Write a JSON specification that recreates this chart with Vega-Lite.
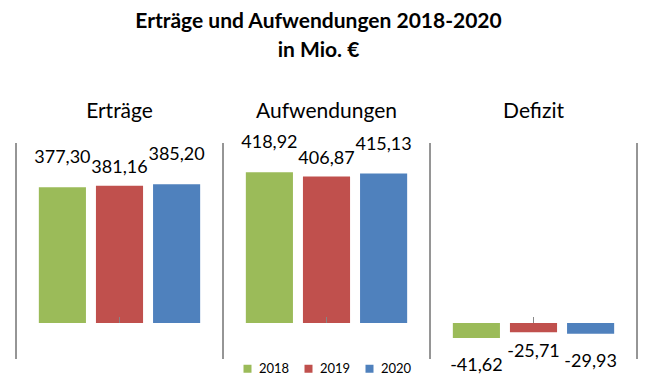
{
  "$schema": "https://vega.github.io/schema/vega-lite/v6.json",
  "width": 621,
  "height": 216,
  "padding": {"left": 15, "top": 11, "right": 14, "bottom": 5},
  "background": "white",
  "config": {
    "view": {"stroke": null},
    "font": "Lato",
    "legend": {"layout": {"bottom": {"anchor": "middle"}}},
    "locale": {"number": {"decimal": ",", "thousands": ".", "grouping": [3], "currency": ["", " €"], "minus": "-"}}
  },
  "title": {
    "text": ["Erträge und Aufwendungen 2018-2020", "in Mio. €"],
    "fontSize": 21,
    "font": "Lato",
    "fontWeight": "bold",
    "lineHeight": 29,
    "anchor": "middle",
    "dx": -8,
    "offset": 39,
    "color": "black"
  },
  "data": {
    "values": [
      {"cat": "Erträge", "year": "2018", "v": 377.30},
      {"cat": "Erträge", "year": "2019", "v": 381.16},
      {"cat": "Erträge", "year": "2020", "v": 385.20},
      {"cat": "Aufwendungen", "year": "2018", "v": 418.92},
      {"cat": "Aufwendungen", "year": "2019", "v": 406.87},
      {"cat": "Aufwendungen", "year": "2020", "v": 415.13},
      {"cat": "Defizit", "year": "2018", "v": -41.62},
      {"cat": "Defizit", "year": "2019", "v": -25.71},
      {"cat": "Defizit", "year": "2020", "v": -29.93}
    ]
  },
  "encoding": {
    "x": {
      "field": "cat", "type": "nominal",
      "sort": ["Erträge", "Aufwendungen", "Defizit"],
      "scale": {"paddingInner": 0, "paddingOuter": 0},
      "axis": {"orient": "top", "title": null, "domain": false, "ticks": false, "labelAngle": 0, "labelFontSize": 21, "labelFont": "Lato", "labelColor": "black", "labelPadding": 22}
    }
  },
  "layer": [
    {
      "mark": {"type": "rule", "color": "#868686", "strokeWidth": 1},
      "encoding": {
        "x": {"field": "cat", "type": "nominal", "sort": ["Erträge", "Aufwendungen", "Defizit"], "bandPosition": 0,
          "axis": {"orient": "top", "title": null, "domain": false, "ticks": false, "labelAngle": 0, "labelFontSize": 21, "labelFont": "Lato", "labelColor": "black", "labelPadding": 22}}
      }
    },
    {
      "transform": [{"filter": "datum.cat == 'Defizit'"}],
      "mark": {"type": "rule", "color": "#868686", "strokeWidth": 1},
      "encoding": {
        "x": {"field": "cat", "type": "nominal", "sort": ["Erträge", "Aufwendungen", "Defizit"], "bandPosition": 1,
          "axis": {"orient": "top", "title": null, "domain": false, "ticks": false, "labelAngle": 0, "labelFontSize": 21, "labelFont": "Lato", "labelColor": "black", "labelPadding": 22}}
      }
    },
    {
      "mark": {"type": "bar"},
      "encoding": {
        "xOffset": {"field": "year", "type": "nominal", "scale": {"paddingInner": 0.175, "paddingOuter": 0.4}},
        "y": {"field": "v", "type": "quantitative", "scale": {"domain": [-100, 500], "nice": false}, "axis": null},
        "color": {
          "field": "year", "type": "nominal",
          "scale": {"domain": ["2018", "2019", "2020"], "range": ["#9BBB59", "#C0504D", "#4F81BD"]},
          "legend": {"title": null, "orient": "bottom", "direction": "horizontal", "symbolType": "square", "symbolSize": 64, "symbolStrokeWidth": 0, "labelFontSize": 13, "labelFont": "Lato", "labelColor": "black", "columnPadding": 12, "labelOffset": 5, "offset": 3}
        }
      }
    },
    {
      "mark": {"type": "rule", "color": "#868686", "strokeWidth": 1},
      "encoding": {"y": {"datum": 0, "type": "quantitative"}}
    },
    {
      "mark": {"type": "tick", "orient": "vertical", "size": 6, "yOffset": -3, "color": "#868686", "thickness": 1},
      "encoding": {"y": {"datum": 0, "type": "quantitative"}}
    },
    {
      "transform": [{"filter": "datum.v > 0 && datum.year != '2019'"}],
      "mark": {"type": "text", "fontSize": 18, "font": "Lato", "baseline": "middle", "dy": -29, "color": "black"},
      "encoding": {
        "xOffset": {"field": "year", "type": "nominal"},
        "y": {"field": "v", "type": "quantitative"},
        "text": {"field": "v", "type": "quantitative", "format": ".2f"}
      }
    },
    {
      "transform": [{"filter": "datum.v > 0 && datum.year == '2019'"}],
      "mark": {"type": "text", "fontSize": 18, "font": "Lato", "baseline": "middle", "dy": -18, "color": "black"},
      "encoding": {
        "xOffset": {"field": "year", "type": "nominal"},
        "y": {"field": "v", "type": "quantitative"},
        "text": {"field": "v", "type": "quantitative", "format": ".2f"}
      }
    },
    {
      "transform": [{"filter": "datum.v < 0 && datum.year != '2019'"}],
      "mark": {"type": "text", "fontSize": 18, "font": "Lato", "baseline": "middle", "dy": 28, "color": "black"},
      "encoding": {
        "xOffset": {"field": "year", "type": "nominal"},
        "y": {"field": "v", "type": "quantitative"},
        "text": {"field": "v", "type": "quantitative", "format": ".2f"}
      }
    },
    {
      "transform": [{"filter": "datum.v < 0 && datum.year == '2019'"}],
      "mark": {"type": "text", "fontSize": 18, "font": "Lato", "baseline": "middle", "dy": 20, "color": "black"},
      "encoding": {
        "xOffset": {"field": "year", "type": "nominal"},
        "y": {"field": "v", "type": "quantitative"},
        "text": {"field": "v", "type": "quantitative", "format": ".2f"}
      }
    }
  ]
}
